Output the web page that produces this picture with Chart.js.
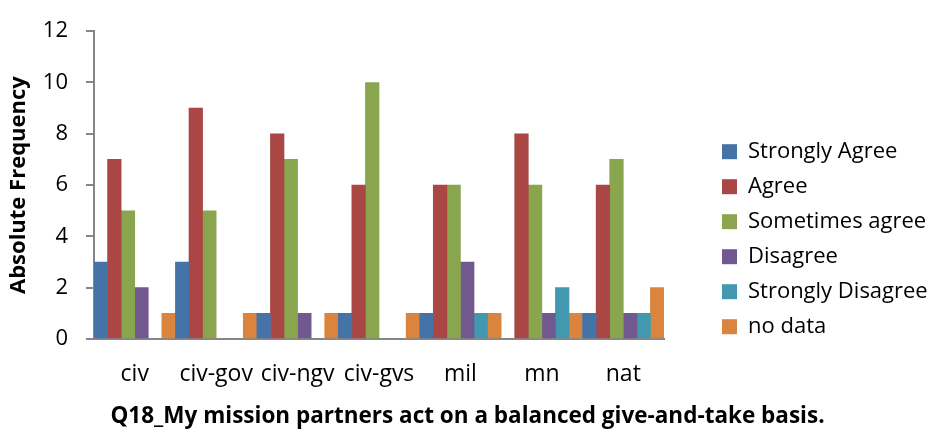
<!DOCTYPE html>
<html>
<head>
<meta charset="utf-8">
<script src="https://cdn.jsdelivr.net/npm/chart.js@4/dist/chart.umd.min.js"></script>
<style>
  html, body { margin: 0; padding: 0; background: #fff; }
  #wrap { width: 935px; height: 433px; }
</style>
</head>
<body>
<div id="wrap"><canvas id="chart" width="935" height="433"></canvas></div>
<script>
// ===== Data =====
const categories = ["civ", "civ-gov", "civ-ngv", "civ-gvs", "mil", "mn", "nat"];
const seriesNames = ["Strongly Agree", "Agree", "Sometimes agree", "Disagree", "Strongly Disagree", "no data"];
const stronglyAgree = [3, 3, 1, 1, 1, null, 1];
const agree = [7, 9, 8, 6, 6, 8, 6];
const sometimesAgree = [5, 5, 7, 10, 6, 6, 7];
const disagree = [2, null, 1, null, 3, 1, 1];
const stronglyDisagree = [null, null, null, null, 1, 2, 1];
const noData = [1, 1, 1, 1, 1, 1, 2];
const yTicks = [0, 2, 4, 6, 8, 10, 12];

const colors = ["#4572A7", "#AA4643", "#89A54E", "#71588F", "#4198AF", "#DB843D"];
const seriesValues = [stronglyAgree, agree, sometimesAgree, disagree, stronglyDisagree, noData];

const FONT = "'Open Sans', 'Liberation Sans', sans-serif";
const axisGray = "#868686";
const plotRight = 664;   // right edge of the plot area
const legendGap = 45;    // space between plot and legend

const datasets = seriesNames.map((name, i) => ({
  label: name,
  data: seriesValues[i],
  backgroundColor: colors[i],
  borderWidth: 0,
  categoryPercentage: 1,
  barPercentage: 1
}));

new Chart(document.getElementById("chart"), {
  type: "bar",
  data: { labels: categories, datasets: datasets },
  options: {
    responsive: false,
    animation: false,
    layout: { padding: { top: 19, left: 0, right: 0, bottom: 0 } },
    plugins: {
      tooltip: { enabled: false },
      // x axis caption, wider than the plot so drawn as chart title
      title: {
        display: true,
        position: "bottom",
        align: "center",
        text: "Q18_My mission partners act on a balanced give-and-take basis.",
        color: "#000",
        padding: { top: 4, bottom: 2.5 },
        font: { family: FONT, size: 22.5, weight: "bold", lineHeight: 1.2 }
      },
      legend: {
        position: "right",
        align: "center",
        fullSize: true,
        maxWidth: 935 - plotRight - legendGap,
        title: { display: true, text: "", padding: 0, font: { family: FONT, size: 22 } },
        labels: {
          color: "#000",
          boxWidth: 15,
          boxHeight: 15,
          padding: 13,
          font: { family: FONT, size: 22 }
        }
      }
    },
    scales: {
      x: {
        grid: { display: false, drawTicks: false },
        border: { display: true, color: axisGray, width: 2 },
        ticks: { color: "#000", padding: 22, font: { family: FONT, size: 23 } },
        afterFit: s => { s.height = 60.5; }
      },
      y: {
        min: 0,
        max: 12,
        afterBuildTicks: s => { s.ticks = yTicks.map(v => ({ value: v })); },
        grid: { drawOnChartArea: false, drawTicks: true, tickLength: 8, color: axisGray, lineWidth: 2 },
        border: { display: true, color: axisGray, width: 2 },
        ticks: { color: "#000", padding: 18, font: { family: FONT, size: 22 } },
        title: {
          display: true,
          text: "Absolute Frequency",
          color: "#000",
          padding: { top: 6, bottom: 0 },
          font: { family: FONT, size: 22, weight: "bold" }
        },
        afterFit: s => { s.width = 94; }
      },
      // empty spacer between plot and legend
      gap: {
        type: "linear",
        position: "right",
        display: true,
        grid: { display: false },
        border: { display: false },
        ticks: { display: false },
        afterFit: s => {
          const lw = s.chart.legend ? s.chart.legend.width || 0 : 0;
          s.width = Math.max(0, 935 - plotRight - lw);
        }
      }
    }
  }
});
</script>
</body>
</html>
